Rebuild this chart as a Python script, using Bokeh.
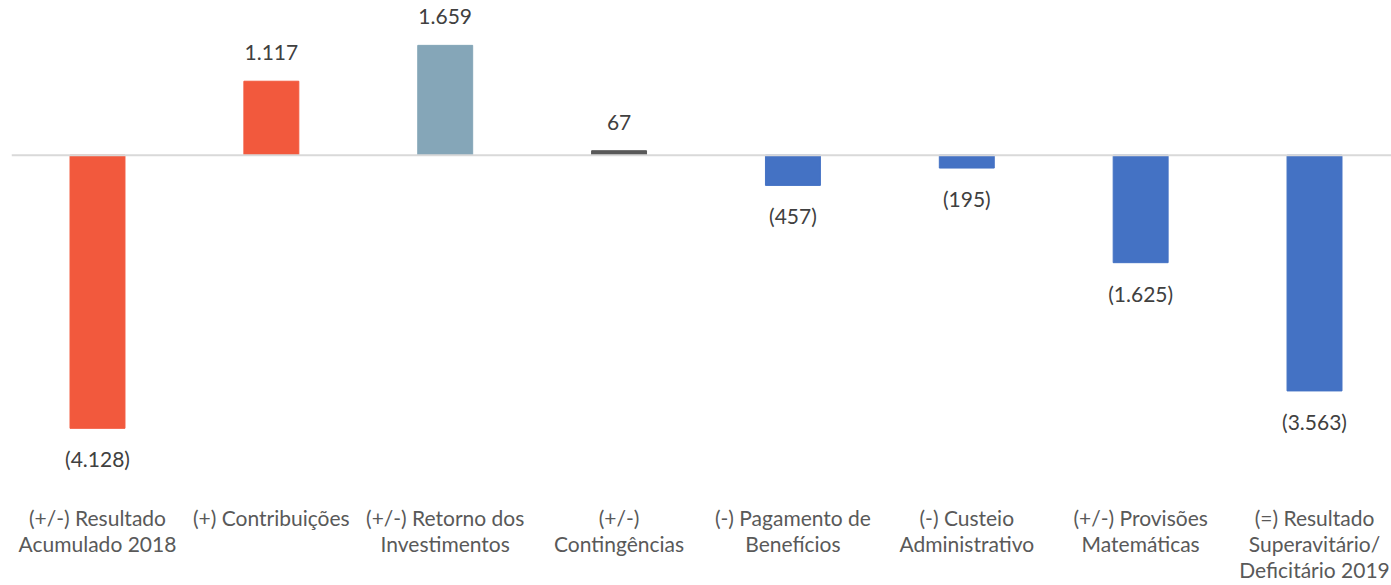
from bokeh.plotting import figure
from bokeh.models import ColumnDataSource, Range1d, FixedTicker, Span
from bokeh.core.properties import value
from bokeh.embed import file_html
from bokeh.resources import INLINE

categories = [
    "(+/-) Resultado\nAcumulado 2018",
    "(+) Contribuições",
    "(+/-) Retorno dos\nInvestimentos",
    "(+/-)\nContingências",
    "(-) Pagamento de\nBenefícios",
    "(-) Custeio\nAdministrativo",
    "(+/-) Provisões\nMatemáticas",
    "(=) Resultado\nSuperavitário/\nDeficitário 2019",
]
values = [-4128, 1117, 1659, 67, -457, -195, -1625, -3563]
colors = ["#F2593D", "#F2593D", "#85A6B8", "#595959",
          "#4472C4", "#4472C4", "#4472C4", "#4472C4"]


def fmt(v):
    s = f"{abs(v):,}".replace(",", ".")
    return f"({s})" if v < 0 else s


xs = list(range(len(values)))
src = ColumnDataSource(dict(x=xs, top=values, color=colors))

pos = [i for i, v in enumerate(values) if v >= 0]
neg = [i for i, v in enumerate(values) if v < 0]
src_pos = ColumnDataSource(dict(x=pos, y=[values[i] for i in pos],
                                t=[fmt(values[i]) for i in pos]))
src_neg = ColumnDataSource(dict(x=neg, y=[values[i] for i in neg],
                                t=[fmt(values[i]) for i in neg]))

p = figure(width=1391, height=585, output_backend="svg", toolbar_location=None,
           x_range=Range1d(-0.4946, 7.4428), y_range=Range1d(-4856, 2337),
           min_border_left=11, min_border_right=0, min_border_top=0,
           min_border_bottom=102)

p.vbar(x="x", top="top", bottom=0, width=0.316, color="color", source=src)

p.add_layout(Span(location=0, dimension="width", line_color="#D9D9D9", line_width=2))

FONT = "Lato"
FS = "21px"
p.text(x="x", y="y", text="t", source=src_pos, text_align="center",
       text_baseline="bottom", y_offset=-21, text_color="#404040",
       text_font=value(FONT), text_font_size=FS)
p.text(x="x", y="y", text="t", source=src_neg, text_align="center",
       text_baseline="top", y_offset=18, text_color="#404040",
       text_font=value(FONT), text_font_size=FS)

p.xaxis.ticker = FixedTicker(ticks=xs)
p.xaxis.major_label_overrides = {i: c for i, c in enumerate(categories)}
p.xaxis.axis_line_color = None
p.xaxis.major_tick_line_color = None
p.xaxis.minor_tick_line_color = None
p.xaxis.major_label_standoff = 22
p.xaxis.major_label_text_font = FONT
p.xaxis.major_label_text_font_size = FS
p.xaxis.major_label_text_line_height = 1.05
p.xaxis.major_label_text_color = "#595959"
p.yaxis.visible = False
p.xgrid.visible = False
p.ygrid.visible = False
p.outline_line_color = None

open("out.html", "w").write(file_html(p, INLINE))
